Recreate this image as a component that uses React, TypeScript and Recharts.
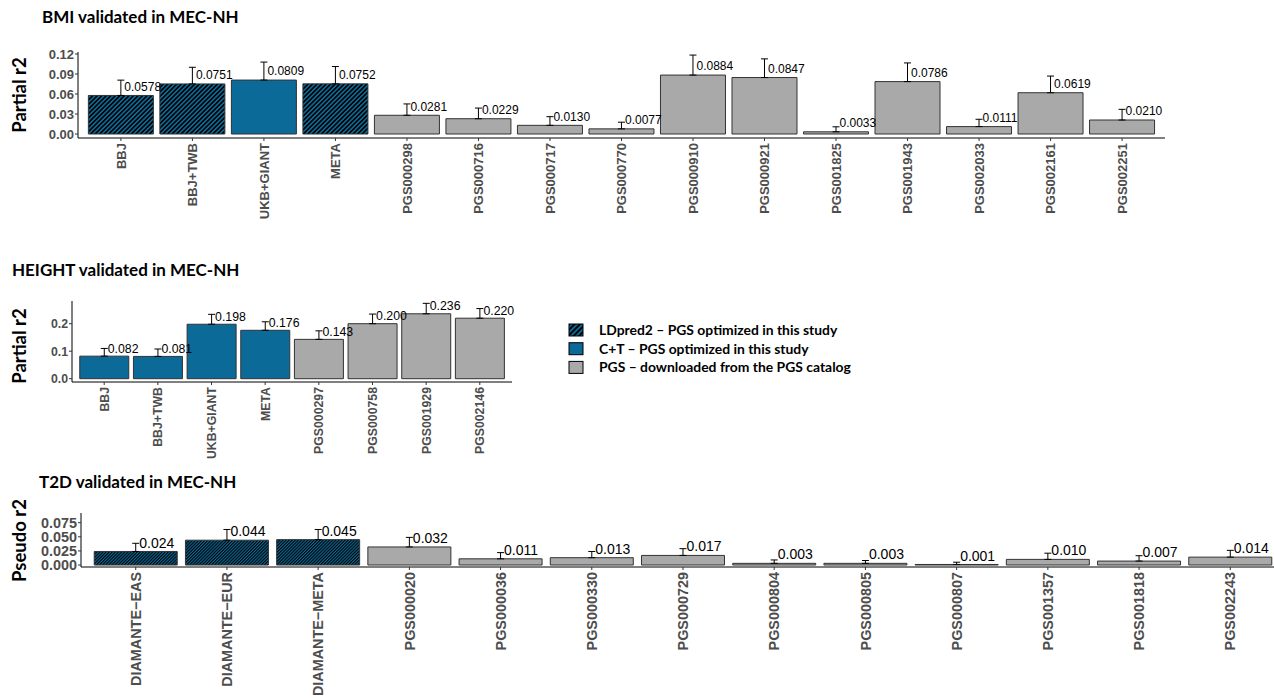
import React from "react";
import { BarChart, Bar, XAxis, YAxis, ErrorBar, Cell, LabelList } from "recharts";

const BLUE = "#0b6a97";
const GREY = "#a9a9a9";
const FONT = "'Liberation Sans', Arial, Helvetica, sans-serif";
const TITLE_FONT = "Lato, 'Open Sans', sans-serif";

// BMI panel
const bmiNames = ["BBJ", "BBJ+TWB", "UKB+GIANT", "META", "PGS000298", "PGS000716", "PGS000717", "PGS000770", "PGS000910", "PGS000921", "PGS001825", "PGS001943", "PGS002033", "PGS002161", "PGS002251"];
const bmiR2 = [0.0578, 0.0751, 0.0809, 0.0752, 0.0281, 0.0229, 0.013, 0.0077, 0.0884, 0.0847, 0.0033, 0.0786, 0.0111, 0.0619, 0.021];
const bmiErr = [0.023, 0.025, 0.027, 0.026, 0.017, 0.016, 0.013, 0.01, 0.03, 0.028, 0.0075, 0.028, 0.011, 0.025, 0.016];
const bmiMethod = ["ld", "ld", "ct", "ld", "pgs", "pgs", "pgs", "pgs", "pgs", "pgs", "pgs", "pgs", "pgs", "pgs", "pgs"];
const bmiTicks = [0, 0.03, 0.06, 0.09, 0.12];

// HEIGHT panel
const htNames = ["BBJ", "BBJ+TWB", "UKB+GIANT", "META", "PGS000297", "PGS000758", "PGS001929", "PGS002146"];
const htR2 = [0.082, 0.081, 0.198, 0.176, 0.143, 0.2, 0.236, 0.22];
const htErr = [0.028, 0.027, 0.036, 0.031, 0.031, 0.035, 0.038, 0.035];
const htMethod = ["ct", "ct", "ct", "ct", "pgs", "pgs", "pgs", "pgs"];
const htTicks = [0, 0.1, 0.2];

// T2D panel
const t2dNames = ["DIAMANTE\u2212EAS", "DIAMANTE\u2212EUR", "DIAMANTE\u2212META", "PGS000020", "PGS000036", "PGS000330", "PGS000729", "PGS000804", "PGS000805", "PGS000807", "PGS001357", "PGS001818", "PGS002243"];
const t2dR2 = [0.024, 0.044, 0.045, 0.032, 0.011, 0.013, 0.017, 0.003, 0.003, 0.001, 0.01, 0.007, 0.014];
const t2dErr = [0.0145, 0.019, 0.018, 0.017, 0.011, 0.011, 0.012, 0.006, 0.005, 0.004, 0.011, 0.0095, 0.012];
const t2dMethod = ["ld", "ld", "ld", "pgs", "pgs", "pgs", "pgs", "pgs", "pgs", "pgs", "pgs", "pgs", "pgs"];
const t2dTicks = [0, 0.025, 0.05, 0.075];

const legendItems = [
  { key: "ld", text: "LDpred2 \u2013 PGS optimized in this study" },
  { key: "ct", text: "C+T \u2013 PGS optimized in this study" },
  { key: "pgs", text: "PGS \u2013 downloaded from the PGS catalog" },
];

function Hatch({ id, size }: { id: string; size: number }) {
  return (
    <pattern id={id} patternUnits="userSpaceOnUse" width={size} height={size} patternTransform="rotate(45)">
      <rect width={size} height={size} fill={BLUE} />
      <rect width={size / 2} height={size} fill="#000" />
    </pattern>
  );
}

type PanelProps = {
  names: string[];
  r2: number[];
  err: number[];
  method: string[];
  ticks: number[];
  tickDigits: number;
  digits: number;
  domain: [number, number];
  top: number;
  yAxisW: number;
  plotW: number;
  plotH: number;
  xAxisH: number;
  hatchId: string;
  hatchSize: number;
  tickFs: number;
  labelFs: number;
  labelOff: number;
};

function Panel(p: PanelProps) {
  const data = p.names.map((name, i) => ({ name, r2: p.r2[i], err: [0, p.err[i]], method: p.method[i] }));
  const pad = (p.plotW / (p.names.length + 0.2)) * 0.1;
  const right = 20;
  const width = p.yAxisW + p.plotW + right;
  const height = 5 + p.plotH + p.xAxisH;

  const fillFor = (m: string) => (m === "ld" ? `url(#${p.hatchId})` : m === "ct" ? BLUE : GREY);

  const xTick = (props: any) => {
    const { x, y, payload } = props;
    return (
      <text
        x={x}
        y={y}
        transform={`rotate(-90 ${x} ${y})`}
        textAnchor="end"
        dy="0.36em"
        fontSize={p.tickFs}
        fontWeight="bold"
        fill="#4d4d4d"
        fontFamily={FONT}
      >
        {payload.value}
      </text>
    );
  };

  const valueLabel = (props: any) => {
    const vb = props.viewBox ?? props;
    const x = vb.x ?? props.x;
    const y = vb.y ?? props.y;
    const w = vb.width ?? props.width;
    return (
      <text x={x + w / 2 + 3.5} y={y - p.labelOff} dy="0.36em" fontSize={p.labelFs} fill="#000" fontFamily={FONT}>
        {Number(props.value).toFixed(p.digits)}
      </text>
    );
  };

  return (
    <div style={{ position: "absolute", left: 0, top: p.top }}>
      <BarChart width={width} height={height} data={data} margin={{ top: 5, right, bottom: 0, left: 0 }} barCategoryGap="4.5%">
        <defs>
          <Hatch id={p.hatchId} size={p.hatchSize} />
        </defs>
        <XAxis
          dataKey="name"
          type="category"
          interval={0}
          height={p.xAxisH}
          padding={{ left: pad, right: pad }}
          tick={xTick}
          tickSize={3}
          tickMargin={2}
          axisLine={{ stroke: "#000", strokeWidth: 1 }}
          tickLine={{ stroke: "#333" }}
        />
        <YAxis
          type="number"
          width={p.yAxisW}
          domain={p.domain}
          ticks={p.ticks}
          interval={0}
          allowDataOverflow
          tickFormatter={(v: number) => v.toFixed(p.tickDigits)}
          tick={{ fontSize: p.tickFs, fontWeight: "bold", fill: "#4d4d4d", fontFamily: FONT }}
          tickSize={3}
          tickMargin={1}
          axisLine={{ stroke: "#000", strokeWidth: 1 }}
          tickLine={{ stroke: "#333" }}
        />
        <Bar dataKey="r2" stroke="#333" strokeWidth={1} isAnimationActive={false}>
          {data.map((d) => (
            <Cell key={d.name} fill={fillFor(d.method)} />
          ))}
          <ErrorBar dataKey="err" direction="y" width={3.5} stroke="#000" strokeWidth={1} />
          <LabelList dataKey="r2" content={valueLabel} />
        </Bar>
      </BarChart>
    </div>
  );
}

export default function App() {
  return (
    <div style={{ position: "fixed", left: 0, top: 0, width: 1274, height: 698, overflow: "hidden", background: "#fff" }}>
      <Panel
        names={bmiNames}
        r2={bmiR2}
        err={bmiErr}
        method={bmiMethod}
        ticks={bmiTicks}
        tickDigits={2}
        digits={4}
        domain={[-0.006, 0.123]}
        top={47}
        yAxisW={78}
        plotW={1087}
        plotH={86}
        xAxisH={90}
        hatchId="hatchBmi"
        hatchSize={3.2}
        tickFs={13}
        labelFs={12}
        labelOff={9}
      />
      <Panel
        names={htNames}
        r2={htR2}
        err={htErr}
        method={htMethod}
        ticks={htTicks}
        tickDigits={1}
        digits={3}
        domain={[-0.012, 0.2825]}
        top={296}
        yAxisW={72}
        plotW={440}
        plotH={81}
        xAxisH={90}
        hatchId="hatchHt"
        hatchSize={3.2}
        tickFs={12.3}
        labelFs={12.3}
        labelOff={8}
      />
      <Panel
        names={t2dNames}
        r2={t2dR2}
        err={t2dErr}
        method={t2dMethod}
        ticks={t2dTicks}
        tickDigits={3}
        digits={3}
        domain={[-0.0035, 0.0922]}
        top={508}
        yAxisW={81}
        plotW={1204}
        plotH={54}
        xAxisH={130}
        hatchId="hatchT2d"
        hatchSize={2.2}
        tickFs={14.4}
        labelFs={14}
        labelOff={9}
      />
      <svg width={1274} height={698} style={{ position: "absolute", left: 0, top: 0, pointerEvents: "none" }}>
        <defs>
          <Hatch id="hatchLegend" size={3.8} />
        </defs>
        <g fontFamily={TITLE_FONT} fontWeight="bold" fill="#000">
          <text x={42} y={23} fontSize={17}>BMI validated in MEC-NH</text>
          <text x={12} y={276} fontSize={17}>HEIGHT validated in MEC-NH</text>
          <text x={39} y={488} fontSize={17}>T2D validated in MEC-NH</text>
          <text x={19} y={95} fontSize={18.5} textAnchor="middle" dy="0.36em" transform="rotate(-90 19 95)">Partial r2</text>
          <text x={19.5} y={346} fontSize={18.5} textAnchor="middle" dy="0.36em" transform="rotate(-90 19.5 346)">Partial r2</text>
          <text x={19.7} y={540.5} fontSize={18.5} textAnchor="middle" dy="0.36em" transform="rotate(-90 19.7 540.5)">Pseudo r2</text>
        </g>
        {legendItems.map((it, i) => {
          const y = 324 + i * 18.7;
          const fill = it.key === "ld" ? "url(#hatchLegend)" : it.key === "ct" ? BLUE : GREY;
          return (
            <g key={it.key}>
              <rect x={569} y={y} width={14} height={12} fill={fill} stroke="#000" strokeWidth={1} />
              <text x={599} y={y + 6} dy="0.36em" fontSize={13.9} fontWeight="bold" fontFamily={TITLE_FONT} fill="#000">
                {it.text}
              </text>
            </g>
          );
        })}
      </svg>
    </div>
  );
}
